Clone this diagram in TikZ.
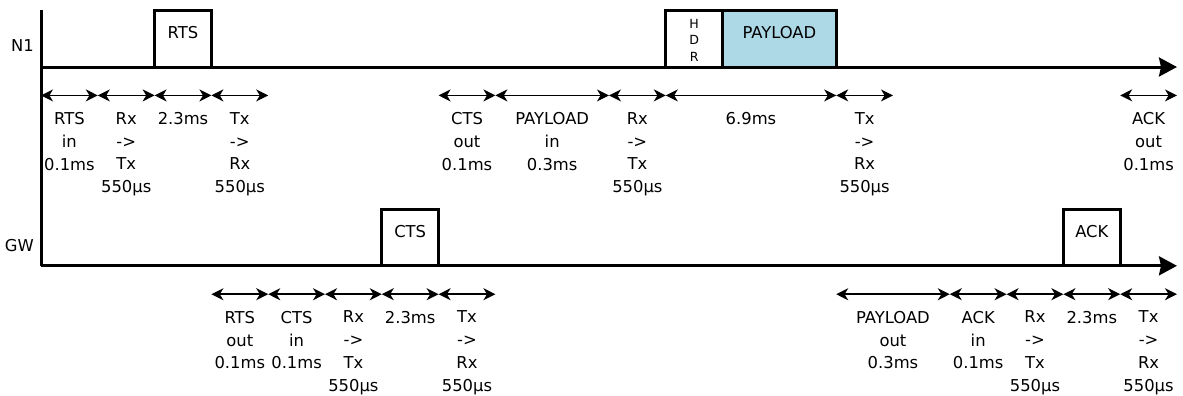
\documentclass[tikz,border=0pt]{standalone}
\usepackage{fontspec}
\setmainfont{DejaVu Sans}
\usetikzlibrary{arrows.meta}
\definecolor{paylcol}{HTML}{ADD8E6}

\begin{document}
\begin{tikzpicture}[font=\fontsize{8.2}{11.5}\selectfont,
		dim/.style={{Stealth[length=6pt,width=6pt,inset=1.8pt]}-{Stealth[length=6pt,width=6pt,inset=1.8pt]}, line width=0.8pt},
		axis/.style={line width=1.5pt, -{Stealth[length=9pt,width=9.5pt,inset=1pt]}},
		frame/.style={line width=1.5pt},
		dimlab/.style={below=0.28cm, inner sep=0pt, align=center}]
		\useasboundingbox (-0.722,-5.792) rectangle (20.106,1.18);
		\def\gw{-3.5}\def\dy{-0.5}
		% time axes of both stations
		\draw[line width=1.5pt] (0,1) -- (0,\gw);
		\draw[axis] (0,0) -- (20,0);
		\draw[axis] (0,\gw) -- (20,\gw);
		\node[anchor=east, inner sep=0pt] (n1) at (-0.12,0.37) {N1};
		\node[anchor=east, inner sep=0pt] (gw) at (-0.12,\gw+0.35) {GW};
		% frames sent by N1
		\draw[frame] (2,0) rectangle (3,1);
		\node (rts) at (2.5,0.6) {RTS};
		\draw[frame] (11,0) rectangle (12,1);
		\node[font=\fontsize{6.3}{8.4}\selectfont, align=center] (hdr) at (11.5,0.47) {H\\D\\R};
		\draw[frame, fill=paylcol] (12,0) rectangle (14,1);
		\node (payload) at (13,0.6) {PAYLOAD};
		% frames sent by GW
		\draw[frame] (6,\gw) rectangle (7,\gw+1);
		\node (cts) at (6.5,\gw+0.6) {CTS};
		\draw[frame] (18,\gw) rectangle (19,\gw+1);
		\node (ack) at (18.5,\gw+0.6) {ACK};
		% N1 timings
		\foreach \a/\b/\txt [count=\i] in {0/1/{RTS\\in\\0.1ms}, 1/2/{Rx\\->\\Tx\\550µs}, 2/3/{2.3ms},
			3/4/{Tx\\->\\Rx\\550µs}, 7/8/{CTS\\out\\0.1ms}, 8/10/{PAYLOAD\\in\\0.3ms},
			10/11/{Rx\\->\\Tx\\550µs}, 11/14/{6.9ms}, 14/15/{Tx\\->\\Rx\\550µs}, 19/20/{ACK\\out\\0.1ms}} {
			\draw[dim] (\a,\dy) -- (\b,\dy) node[midway, dimlab] (t1-\i) {\txt};
		}
		% GW timings
		\foreach \a/\b/\txt [count=\i] in {3/4/{RTS\\out\\0.1ms}, 4/5/{CTS\\in\\0.1ms}, 5/6/{Rx\\->\\Tx\\550µs},
			6/7/{2.3ms}, 7/8/{Tx\\->\\Rx\\550µs}, 14/16/{PAYLOAD\\out\\0.3ms}, 16/17/{ACK\\in\\0.1ms},
			17/18/{Rx\\->\\Tx\\550µs}, 18/19/{2.3ms}, 19/20/{Tx\\->\\Rx\\550µs}} {
			\draw[dim] (\a,\gw+\dy) -- (\b,\gw+\dy) node[midway, dimlab] (t2-\i) {\txt};
		}
	\end{tikzpicture}
\end{document}
